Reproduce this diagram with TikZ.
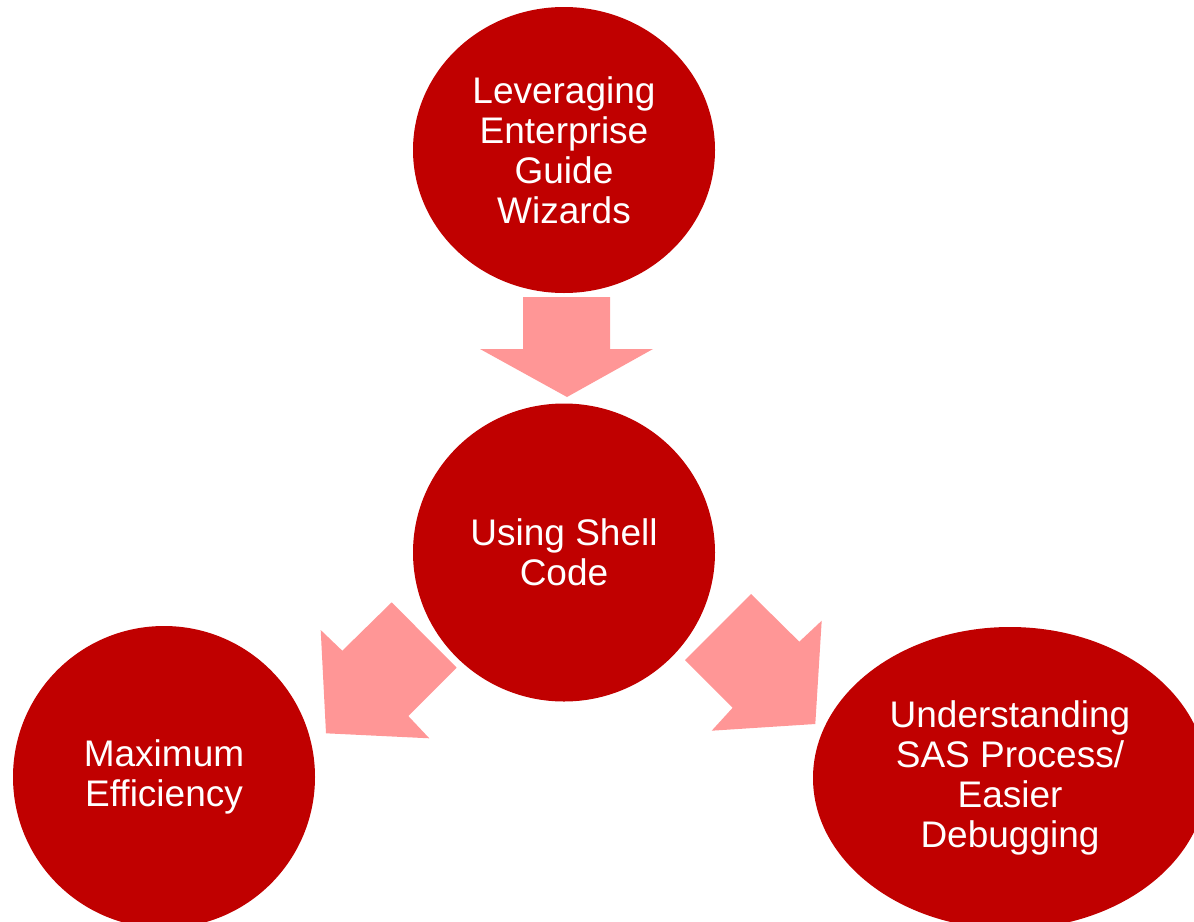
\documentclass[tikz,border=0pt]{standalone}
\usepackage{fontspec}
\setmainfont{Liberation Sans}
\usetikzlibrary{shapes.geometric}
\definecolor{bubred}{RGB}{192,0,0}
\definecolor{arrpink}{RGB}{255,150,150}
\begin{document}
\begin{tikzpicture}[x=1pt,y=-1pt,
  bubble/.style={ellipse, fill=bubred, draw=none, inner sep=0pt, text=white,
    align=center, font=\fontsize{37}{40}\selectfont},
  blockarrow/.style={fill=arrpink, draw=none}]
\useasboundingbox (0,0) rectangle (1194,921);
\clip (0,0) rectangle (1194,921);
% arrows
\fill[blockarrow] (523,297) -- (610,297) -- (610,349) -- (653,349) -- (567,397) -- (480,349) -- (523,349) -- cycle;
\fill[blockarrow] (391.7,602.3) -- (456.7,667.7) -- (408.3,716) -- (429.3,738.3) -- (326,733.3) -- (320.7,630) -- (342.3,650.7) -- cycle;
\fill[blockarrow] (751,594) -- (685,660) -- (732.7,707.7) -- (711.7,730.7) -- (815.3,724) -- (821.7,620.7) -- (799.3,641.7) -- cycle;
% bubbles
\node[bubble, minimum width=302pt, minimum height=286pt] (top) at (564,150) {Leveraging\\Enterprise\\Guide\\Wizards};
\node[bubble, minimum width=302pt, minimum height=298pt] (mid) at (564,552.5) {Using Shell\\Code};
\node[bubble, minimum width=302pt, minimum height=302pt] (left) at (164,777) {Maximum\\Efficiency};
\node[bubble, minimum width=394pt, minimum height=302pt] (right) at (1010,778) {Understanding\\SAS Process/\\Easier\\Debugging};
\end{tikzpicture}
\end{document}
